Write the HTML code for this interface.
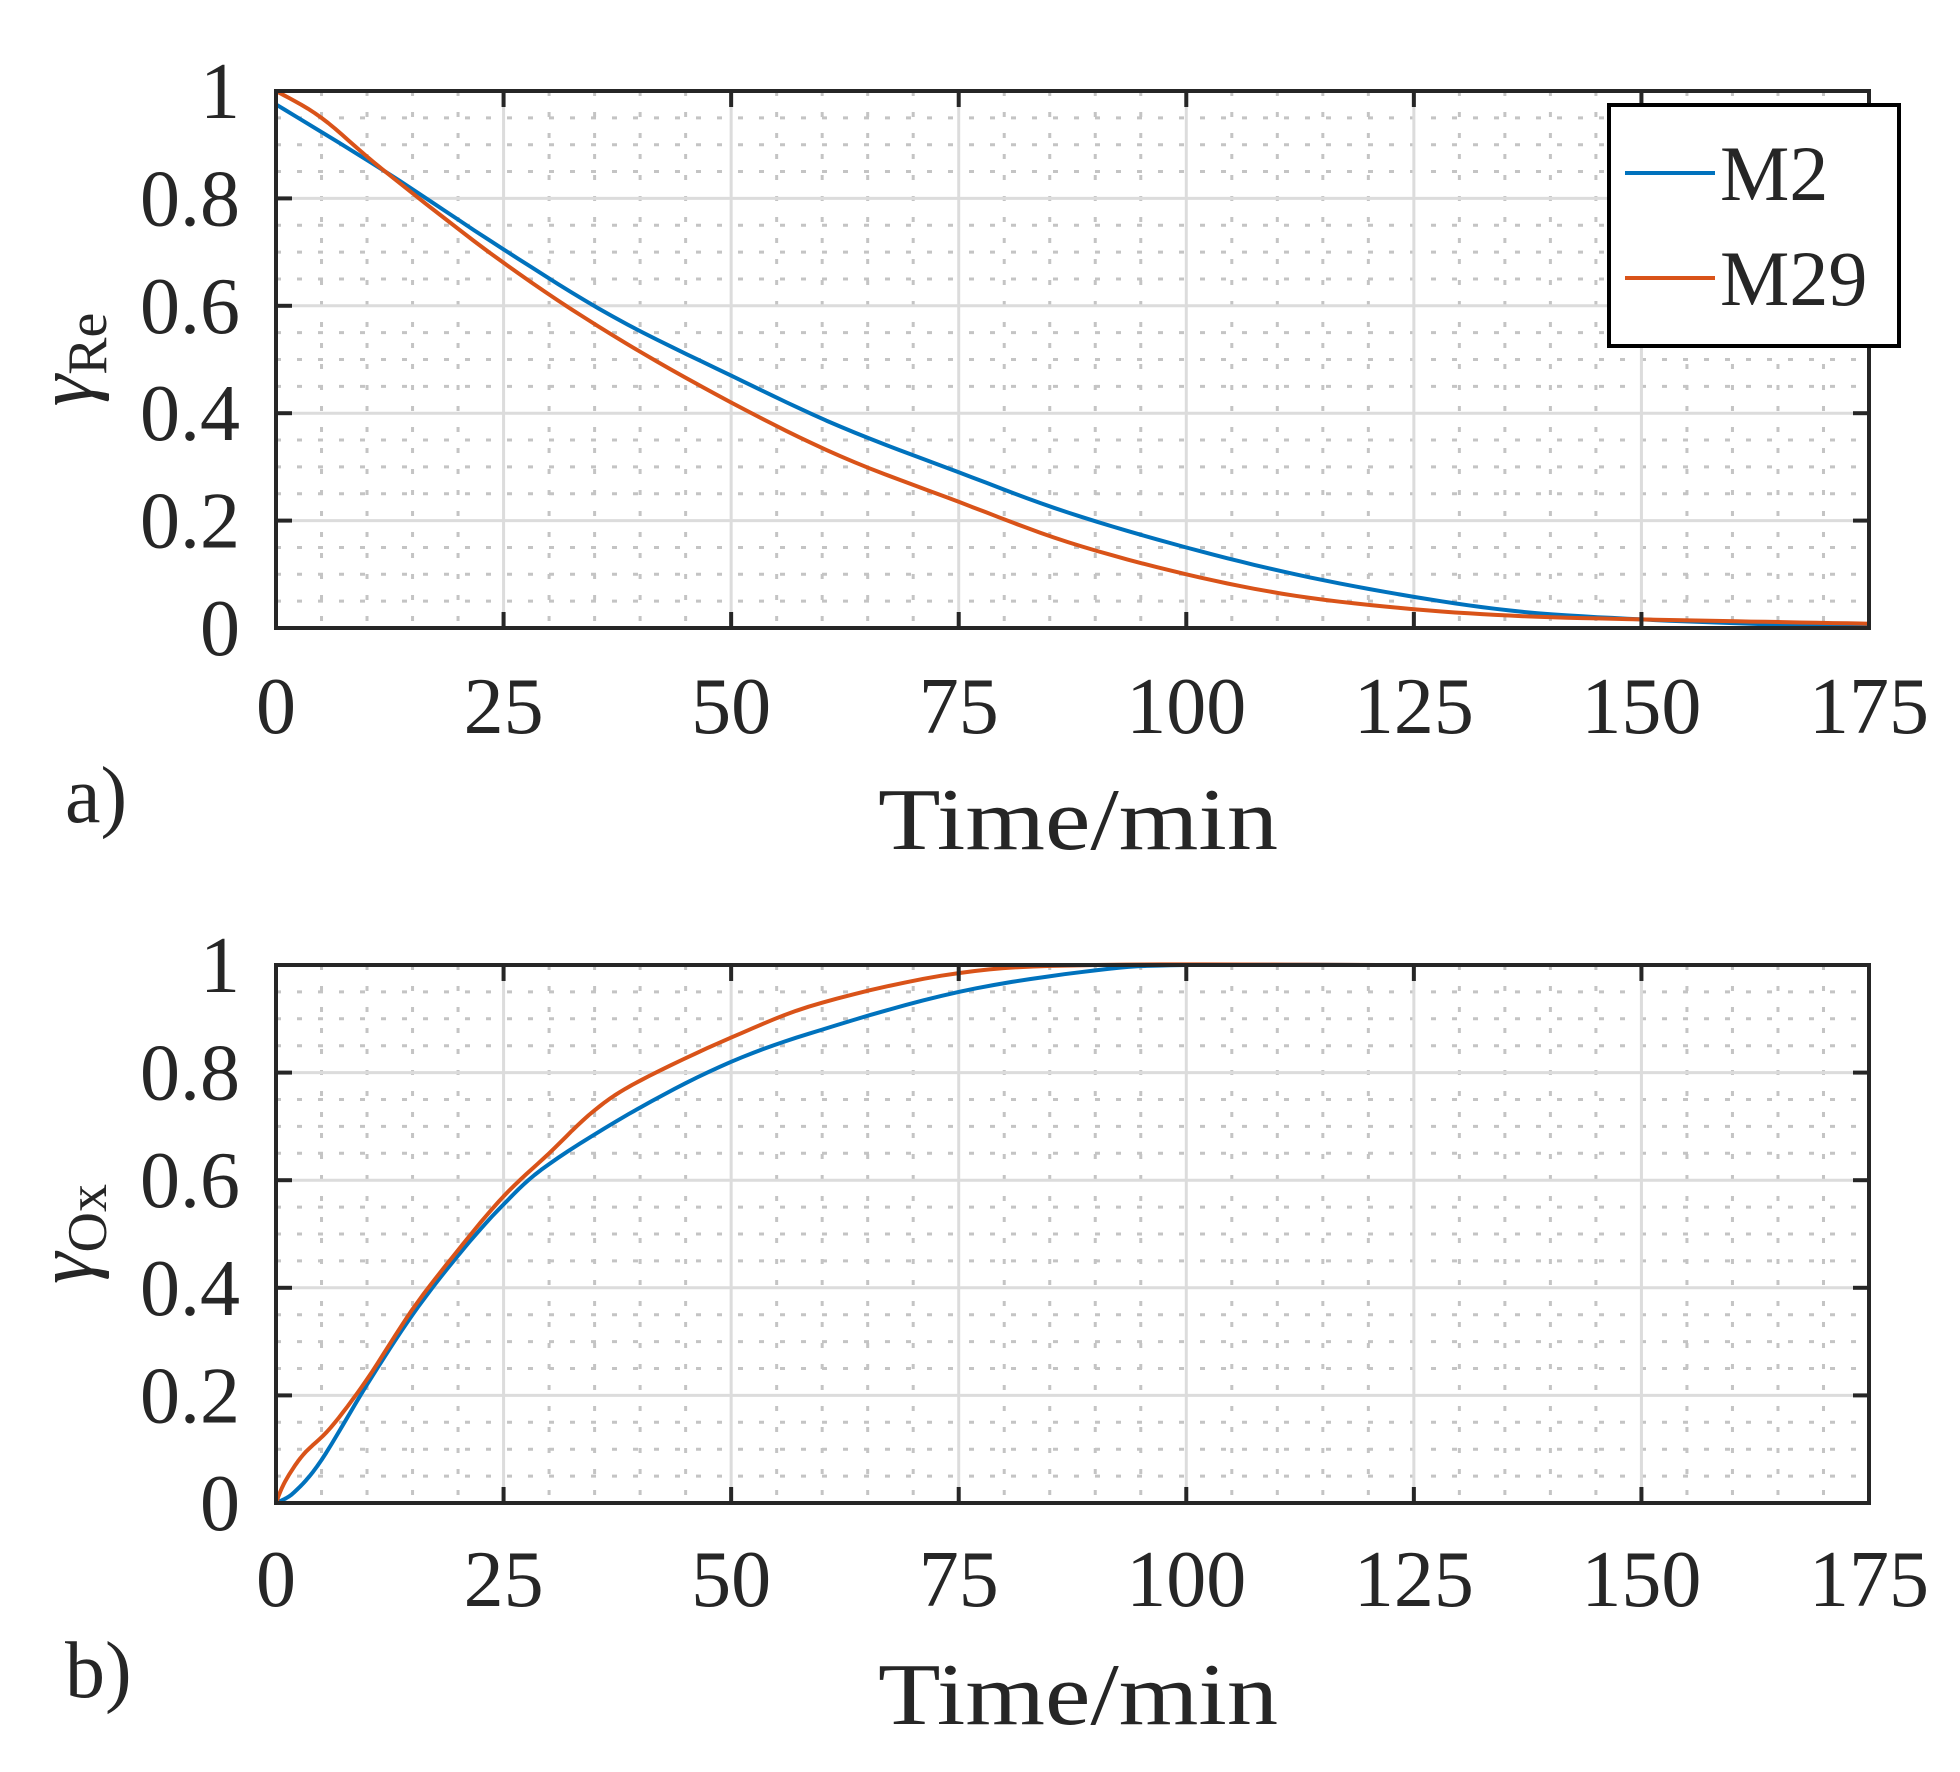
<!DOCTYPE html>
<html><head><meta charset="utf-8"><style>
html,body{margin:0;padding:0;background:#fff;width:1960px;height:1772px;overflow:hidden}
svg{display:block}
text{font-family:"Liberation Serif",serif;fill:#262626}
</style></head><body>
<svg id="s" width="1960" height="1772" viewBox="0 0 1960 1772" xmlns="http://www.w3.org/2000/svg"></svg>
<script>
const S=document.getElementById('s');
let h='';
const X0=276,X1=1869;
function px(t){return X0+(X1-X0)*t/175;}
function plot(top,bot,series,ylab,sub,lab,labY,tickY,titleY,legend){
  const py=v=>bot-(bot-top)*v;
  for(let t=5;t<175;t+=5){ if(t%25==0)continue; h+=`<line x1="${px(t)}" y1="${top}" x2="${px(t)}" y2="${bot}" stroke="#c4c4c4" stroke-width="3" stroke-dasharray="5 16"/>`;}
  for(let k=1;k<20;k++){ if(k%4==0)continue; const y=py(k*0.05); h+=`<line x1="${X0}" y1="${y}" x2="${X1}" y2="${y}" stroke="#c4c4c4" stroke-width="3" stroke-dasharray="5 16"/>`;}
  for(let t=25;t<175;t+=25) h+=`<line x1="${px(t)}" y1="${top}" x2="${px(t)}" y2="${bot}" stroke="#dcdcdc" stroke-width="3"/>`;
  for(let k=1;k<5;k++){const y=py(k*0.2); h+=`<line x1="${X0}" y1="${y}" x2="${X1}" y2="${y}" stroke="#dcdcdc" stroke-width="3"/>`;}
  for(const [pts,col] of series){
    let d='';pts.forEach((p,i)=>{d+=(i?'L':'M')+px(p[0]).toFixed(1)+' '+py(p[1]).toFixed(1);});
    h+=`<path d="${d}" fill="none" stroke="${col}" stroke-width="4" stroke-linejoin="round"/>`;
  }
  for(let t=0;t<=175;t+=25){h+=`<line x1="${px(t)}" y1="${bot}" x2="${px(t)}" y2="${bot-16}" stroke="#262626" stroke-width="4"/><line x1="${px(t)}" y1="${top}" x2="${px(t)}" y2="${top+16}" stroke="#262626" stroke-width="4"/>`;
    h+=`<text x="${px(t)}" y="${tickY+27}" font-size="80" text-anchor="middle">${t}</text>`;}
  const yl=['0','0.2','0.4','0.6','0.8','1'];
  for(let k=0;k<=5;k++){const y=py(k*0.2);h+=`<line x1="${X0}" y1="${y}" x2="${X0+16}" y2="${y}" stroke="#262626" stroke-width="4"/><line x1="${X1}" y1="${y}" x2="${X1-16}" y2="${y}" stroke="#262626" stroke-width="4"/>`;
    h+=`<text x="240" y="${y+27}" font-size="80" text-anchor="end">${yl[k]}</text>`;}
  h+=`<rect x="${X0}" y="${top}" width="${X1-X0}" height="${bot-top}" fill="none" stroke="#262626" stroke-width="4"/>`;
  h+=`<text x="1078" y="${titleY+30}" font-size="88" text-anchor="middle" textLength="400" lengthAdjust="spacingAndGlyphs">Time/min</text>`;
  h+=`<text x="65" y="${labY+22}" font-size="80">${lab}</text>`;
  const cy=(top+bot)/2;
  h+=`<g transform="translate(92,${cy}) rotate(-90)"><text x="0" y="0" text-anchor="middle" font-size="80"><tspan font-style="italic">γ</tspan><tspan font-size="56" dy="14">${sub}</tspan></text></g>`;
  if(legend){
    h+=`<rect x="1609" y="105" width="290" height="241" fill="#fff" stroke="#000" stroke-width="4"/>`;
    h+=`<line x1="1625" y1="173" x2="1715" y2="173" stroke="#0072BD" stroke-width="4"/><line x1="1625" y1="278" x2="1715" y2="278" stroke="#D95319" stroke-width="4"/>`;
    h+=`<text x="1720" y="200" font-size="78" fill="#000">M2</text><text x="1720" y="305" font-size="78" fill="#000">M29</text>`;
  }
}
function interp(knots,step){const out=[];
  for(let i=0;i<knots.length-1;i++){const p0=knots[Math.max(0,i-1)],p1=knots[i],p2=knots[i+1],p3=knots[Math.min(knots.length-1,i+2)];
    for(let s=0;s<step;s++){const u=s/step,u2=u*u,u3=u2*u;
      const f=(a,b,c,d)=>0.5*((2*b)+(-a+c)*u+(2*a-5*b+4*c-d)*u2+(-a+3*b-3*c+d)*u3);
      out.push([f(p0[0],p1[0],p2[0],p3[0]),f(p0[1],p1[1],p2[1],p3[1])]);}}
  out.push(knots[knots.length-1]);return out;}
const re2=interp([[0,0.975],[12,0.85],[25,0.705],[37,0.58],[50,0.47],[62,0.375],[75,0.29],[87,0.215],[100,0.15],[112,0.1],[125,0.058],[137,0.03],[150,0.016],[162,0.008],[175,0.002]],8);
const re29=interp([[0,1],[5,0.95],[12,0.85],[25,0.68],[37,0.545],[50,0.42],[62,0.32],[75,0.235],[87,0.16],[100,0.1],[112,0.06],[125,0.035],[137,0.022],[150,0.016],[162,0.012],[175,0.008]],8);
const ox2=interp([[0,0],[2,0.02],[5,0.08],[10,0.22],[15,0.35],[20,0.46],[25,0.555],[30,0.63],[40,0.735],[50,0.82],[60,0.88],[75,0.95],[90,0.99],[100,1],[121,1]],8);
const ox29=interp([[0,0],[1,0.04],[3,0.09],[6,0.14],[10,0.23],[15,0.36],[20,0.47],[25,0.57],[30,0.65],[35,0.73],[40,0.785],[50,0.865],[60,0.93],[75,0.985],[90,1],[121,1]],8);
plot(91,628,[[re2,'#0072BD'],[re29,'#D95319']],'','Re','a)',800,706,819,true);
plot(965,1503,[[ox2,'#0072BD'],[ox29,'#D95319']],'','Ox','b)',1675,1579,1694,false);
S.innerHTML=h;
</script>
</body></html>
